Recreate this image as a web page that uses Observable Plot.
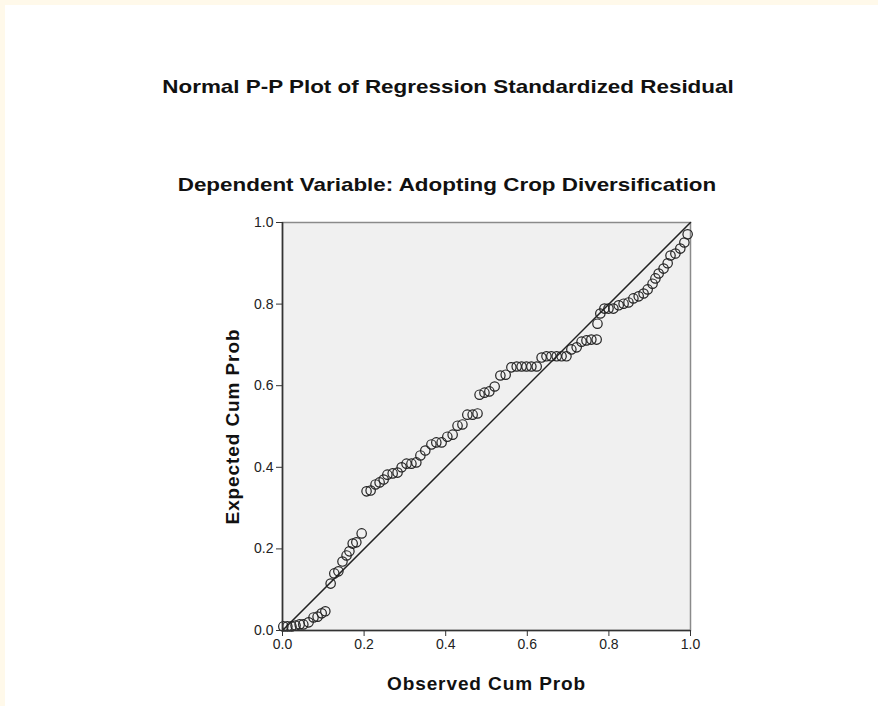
<!DOCTYPE html>
<html><head><meta charset="utf-8">
<script src="https://cdn.jsdelivr.net/npm/d3@7"></script>
<script src="https://cdn.jsdelivr.net/npm/@observablehq/plot@0.6"></script>
<style>
html,body{margin:0;padding:0;}
body{background:#fff9ea;width:878px;height:706px;position:relative;overflow:hidden;font-family:"Liberation Sans",Arial,sans-serif;}
#panel{position:absolute;left:5px;top:5px;width:873px;height:701px;background:#fff;}
.title{position:absolute;width:878px;text-align:center;font-weight:bold;font-size:19px;line-height:19px;color:#111;white-space:nowrap;transform:scaleX(1.18);}
#chart svg{display:block;background:transparent;}
#chart g[aria-label="x-axis label"] text,#chart g[aria-label="y-axis label"] text{font-size:19px;font-weight:bold;letter-spacing:0.9px;fill:#111;}
</style></head>
<body>
<div id="panel"><div id="chart"></div></div>
<div class="title" style="left:9px;top:77px;">Normal P-P Plot of Regression Standardized Residual</div>
<div class="title" style="left:8px;top:175px;">Dependent Variable: Adopting Crop Diversification</div>
<script>
const titleText = "Normal P-P Plot of Regression Standardized Residual";
const subtitleText = "Dependent Variable: Adopting Crop Diversification";
const xLabel = "Observed Cum Prob";
const yLabel = "Expected Cum Prob";
const tickValues = [0, 0.2, 0.4, 0.6, 0.8, 1.0];
const refLine = [0, 1];

const observedCumProb = [0.002,0.012,0.022,0.032,0.042,0.051,0.064,0.076,0.086,0.096,
0.105,0.118,0.127,0.137,0.147,0.157,0.164,0.172,0.181,0.194,
0.206,0.216,0.228,0.238,0.248,0.257,0.270,0.282,0.292,0.304,
0.316,0.328,0.338,0.350,0.365,0.377,0.390,0.404,0.417,0.429,
0.441,0.453,0.466,0.478,0.483,0.495,0.507,0.520,0.534,0.547,
0.561,0.574,0.586,0.598,0.610,0.623,0.635,0.647,0.659,0.672,
0.684,0.696,0.708,0.721,0.733,0.745,0.757,0.770,0.772,0.779,
0.789,0.799,0.811,0.824,0.836,0.848,0.860,0.873,0.885,0.895,
0.907,0.914,0.922,0.934,0.944,0.951,0.963,0.975,0.985,0.993];
const expectedCumProb = [0.010,0.010,0.010,0.012,0.015,0.015,0.020,0.032,0.034,0.042,
0.047,0.115,0.140,0.145,0.169,0.184,0.194,0.213,0.216,0.238,
0.341,0.343,0.358,0.363,0.370,0.382,0.385,0.387,0.400,0.409,
0.409,0.412,0.429,0.441,0.456,0.461,0.461,0.475,0.480,0.502,
0.505,0.529,0.529,0.532,0.578,0.583,0.586,0.598,0.625,0.627,
0.645,0.647,0.647,0.647,0.647,0.647,0.669,0.672,0.672,0.672,
0.672,0.672,0.689,0.694,0.708,0.711,0.713,0.713,0.752,0.777,
0.789,0.789,0.789,0.797,0.801,0.804,0.814,0.819,0.826,0.836,
0.850,0.863,0.875,0.887,0.900,0.919,0.924,0.936,0.951,0.971];

const points = observedCumProb.map((x, i) => ({x, y: expectedCumProb[i]}));
const fmt = d3.format(".1f");

const chart = Plot.plot({
  width: 873, height: 701,
  marginLeft: 277, marginRight: 188, marginTop: 217, marginBottom: 76,
  style: {background: "transparent", fontFamily: "'Liberation Sans', Arial, sans-serif"},
  x: {domain: [0, 1]},
  y: {domain: [0, 1]},
  marks: [
    Plot.frame({fill: "#f0f0f0", stroke: "#8a8a8a", strokeWidth: 1.5}),
    Plot.line(refLine.map(v => ({x: v, y: v})), {x: "x", y: "y", stroke: "#222", strokeWidth: 1.5}),
    Plot.dot(points, {x: "x", y: "y", r: 4.7, stroke: "#222", strokeWidth: 1.2, fill: "none"}),
    Plot.ruleX([0], {stroke: "#333", strokeWidth: 1.6}),
    Plot.ruleY([0], {stroke: "#333", strokeWidth: 1.6}),
    Plot.axisX({ticks: tickValues, tickFormat: fmt, tickSize: 6, tickPadding: 3, fontSize: 14, stroke: "#333", fill: "#222",
      label: xLabel, labelAnchor: "center", labelArrow: "none", labelOffset: 59}),
    Plot.axisY({ticks: tickValues, tickFormat: fmt, tickSize: 6, tickPadding: 3, fontSize: 14, stroke: "#333", fill: "#222",
      label: yLabel, labelAnchor: "center", labelArrow: "none", labelOffset: 57})
  ]
});
document.getElementById("chart").appendChild(chart);
</script>
</body></html>
